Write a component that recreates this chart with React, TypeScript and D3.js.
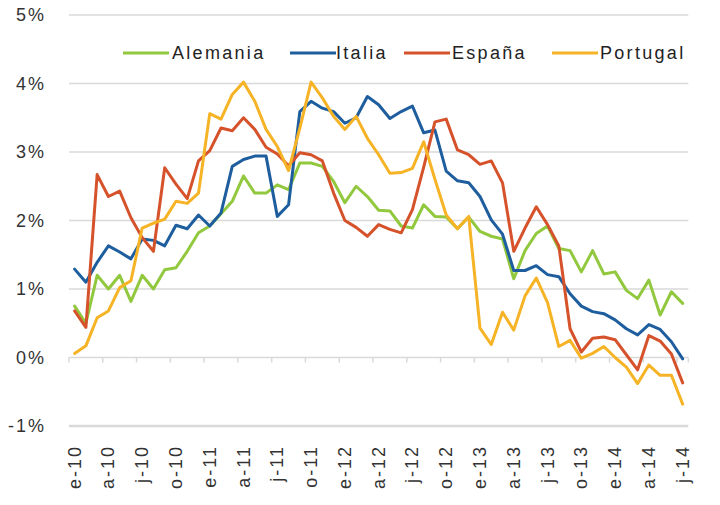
import React from "react";
import * as d3 from "d3";

const months: string[] = [];
const yearsShort = ["10", "11", "12", "13", "14"];
const monthLetters = ["e", "f", "m", "a", "m", "j", "j", "a", "s", "o", "n", "d"];
for (let yi = 0; yi < yearsShort.length; yi++) {
  for (let m = 0; m < 12; m++) {
    if (yi === 4 && m > 6) break;
    months.push(monthLetters[m] + "-" + yearsShort[yi]);
  }
}

const yTicks = [-1, 0, 1, 2, 3, 4, 5];

const alemania = [
  0.75, 0.5, 1.2, 1.0, 1.2, 0.82, 1.2, 1.0, 1.28, 1.31, 1.55, 1.82,
  1.92, 2.1, 2.28, 2.65, 2.4, 2.4, 2.52, 2.45, 2.84, 2.84, 2.79, 2.57,
  2.26, 2.5, 2.35, 2.15, 2.14, 1.92, 1.89, 2.23, 2.06, 2.05, 1.88, 2.05,
  1.84, 1.77, 1.73, 1.15, 1.56, 1.81, 1.92, 1.59, 1.56, 1.25, 1.56, 1.22,
  1.25, 0.98, 0.86, 1.13, 0.62, 0.96, 0.79,
];
const italia = [
  1.29, 1.1, 1.39, 1.63, 1.54, 1.44, 1.73, 1.71, 1.63, 1.93, 1.88, 2.08,
  1.92, 2.11, 2.79, 2.89, 2.94, 2.94, 2.06, 2.23, 3.59, 3.74, 3.64, 3.59,
  3.42, 3.5, 3.81, 3.69, 3.49, 3.59, 3.67, 3.28, 3.32, 2.72, 2.58, 2.55,
  2.35, 2.01, 1.8, 1.27, 1.27, 1.34, 1.21, 1.18, 0.93, 0.75, 0.67, 0.64,
  0.55, 0.42, 0.33, 0.48, 0.41, 0.23, -0.02,
];
const espana = [
  0.68, 0.44, 2.67, 2.35, 2.43, 2.04, 1.75, 1.55, 2.77, 2.53, 2.32, 2.87,
  3.02, 3.35, 3.31, 3.5, 3.33, 3.07, 2.97, 2.8, 2.99, 2.96, 2.87, 2.4,
  2.0, 1.9, 1.77, 1.94, 1.87, 1.82, 2.16, 2.78, 3.44, 3.48, 3.03, 2.96,
  2.82, 2.87, 2.55, 1.55, 1.89, 2.2, 1.94, 1.63, 0.42, 0.08, 0.28, 0.3,
  0.26, 0.04, -0.18, 0.32, 0.24, 0.05, -0.37,
];
const portugal = [
  0.06, 0.17, 0.58, 0.68, 1.02, 1.12, 1.89, 1.96, 2.02, 2.28, 2.25, 2.4,
  3.56, 3.48, 3.84, 4.02, 3.74, 3.33, 3.08, 2.73, 3.35, 4.02, 3.79, 3.52,
  3.33, 3.52, 3.2, 2.96, 2.69, 2.7, 2.76, 3.15, 2.6, 2.08, 1.88, 2.06,
  0.43, 0.19, 0.66, 0.4, 0.9, 1.16, 0.8, 0.16, 0.25, -0.01, 0.06, 0.16,
  0.0, -0.14, -0.38, -0.11, -0.26, -0.26, -0.68,
];

const seriesNames = ["Alemania", "Italia", "España", "Portugal"];
const seriesColors = ["#92C83E", "#1E5E9E", "#D5522B", "#F5B325"];
const seriesData = [alemania, italia, espana, portugal];

const W = 720;
const H = 505;
const FONT = "'Liberation Sans', Arial, sans-serif";

export default function App() {
  const x = d3
    .scaleBand<number>()
    .domain(months.map((_, i) => i))
    .range([69, 688.3])
    .paddingInner(0)
    .paddingOuter(0);
  const bw = x.bandwidth();
  const cx = (i: number) => (x(i) as number) + bw / 2;
  const y = d3.scaleLinear().domain([-1, 5]).range([426, 15]);

  const line = d3
    .line<number>()
    .x((_, i) => cx(i))
    .y((d) => y(d));

  const tickIdx = months.map((_, i) => i).filter((i) => i % 3 === 0);

  const legendItems = [
    { lx: 123, tx: 172 },
    { lx: 290, tx: 336 },
    { lx: 404, tx: 452 },
    { lx: 552, tx: 600 },
  ];

  return (
    <svg
      width={W}
      height={H}
      style={{ position: "absolute", left: 0, top: 0, background: "#fff" }}
      fontFamily={FONT}
    >
      <rect x={0} y={0} width={W} height={H} fill="#fff" />
      {/* gridlines */}
      {yTicks.map((t) => (
        <line
          key={"g" + t}
          x1={69}
          x2={688.3}
          y1={y(t)}
          y2={y(t)}
          stroke="#D9D9D9"
          strokeWidth={t === -1 ? 2.5 : 1.6}
        />
      ))}
      {/* tick marks on 0% axis */}
      {tickIdx.concat([months.length]).map((i) => {
        const xx = i === months.length ? 688.3 : (x(i) as number);
        return (
          <line
            key={"t" + i}
            x1={xx}
            x2={xx}
            y1={y(0)}
            y2={y(0) + 5}
            stroke="#D9D9D9"
            strokeWidth={1.5}
          />
        );
      })}
      {/* y labels */}
      {yTicks.map((t) => (
        <text
          key={"yl" + t}
          x={46}
          y={y(t)}
          textAnchor="end"
          dominantBaseline="central"
          fontSize={18}
          letterSpacing={2}
          fill="#333"
        >
          {t + "%"}
        </text>
      ))}
      {/* x labels */}
      {tickIdx.map((i) => (
        <text
          key={"xl" + i}
          transform={`translate(${cx(i)},${445}) rotate(-90)`}
          textAnchor="end"
          dominantBaseline="central"
          fontSize={18}
          letterSpacing={2}
          fill="#333"
        >
          {months[i]}
        </text>
      ))}
      {/* series */}
      {seriesData.map((d, si) => (
        <path
          key={"s" + si}
          d={line(d) || ""}
          fill="none"
          stroke={seriesColors[si]}
          strokeWidth={3}
          strokeLinejoin="round"
          strokeLinecap="round"
        />
      ))}
      {/* legend */}
      {legendItems.map((it, si) => (
        <g key={"lg" + si}>
          <line
            x1={it.lx}
            x2={it.lx + 46}
            y1={53}
            y2={53}
            stroke={seriesColors[si]}
            strokeWidth={3}
          />
          <text
            x={it.tx}
            y={53}
            dominantBaseline="central"
            fontSize={18}
            letterSpacing={2.3}
            fill="#222"
          >
            {seriesNames[si]}
          </text>
        </g>
      ))}
    </svg>
  );
}
